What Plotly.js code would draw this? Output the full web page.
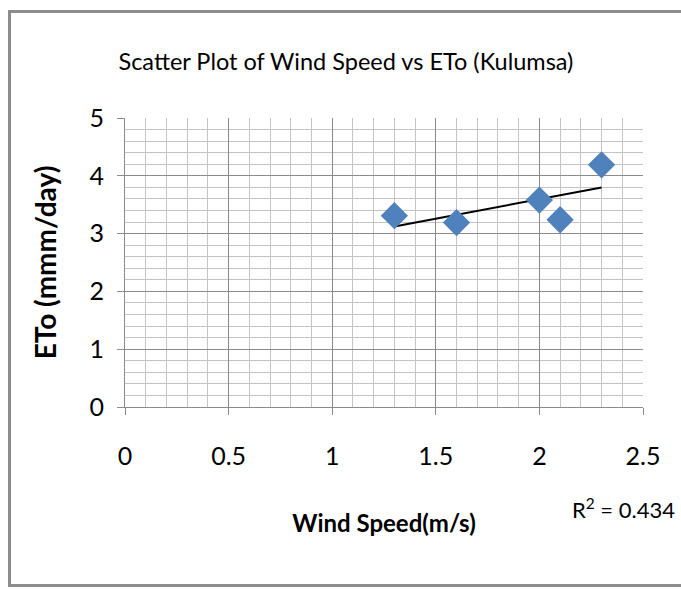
<!DOCTYPE html>
<html>
<head>
<meta charset="utf-8">
<script src="https://cdn.plot.ly/plotly-3.0.1.min.js"></script>
<style>
  html, body { margin: 0; padding: 0; background: #fff; }
  #wrap { position: relative; width: 681px; height: 589px; overflow: hidden; }
  #chart { position: absolute; left: 0; top: 0; width: 681px; height: 589px; }
  #frame { position: absolute; left: 8px; top: 10px; width: 700px; height: 571px;
           border-left: 3px solid #8c8c8c; border-top: 3px solid #8c8c8c; border-bottom: 3px solid #8c8c8c;
           pointer-events: none; }
</style>
</head>
<body>
<div id="wrap">
  <div id="chart"></div>
  <div id="frame"></div>
</div>
<script>
// ---- data ----
const windSpeed = [1.3, 1.6, 2.0, 2.1, 2.3];
const eto = [3.31, 3.19, 3.58, 3.24, 4.19];
const xTickVals = [0, 0.5, 1, 1.5, 2, 2.5];
const yTickVals = [0, 1, 2, 3, 4, 5];
const chartTitle = "Scatter Plot of Wind Speed vs ETo (Kulumsa)";
const xTitle = "Wind Speed(m/s)";
const yTitle = "ETo (mmm/day)";
const r2Label = "R<sup>2</sup> = 0.434";

// ---- linear least-squares trendline from the data ----
const n = windSpeed.length;
const mx = windSpeed.reduce((a, b) => a + b, 0) / n;
const my = eto.reduce((a, b) => a + b, 0) / n;
let sxy = 0, sxx = 0;
for (let i = 0; i < n; i++) { sxy += (windSpeed[i] - mx) * (eto[i] - my); sxx += (windSpeed[i] - mx) ** 2; }
const slope = sxy / sxx, intercept = my - slope * mx;
const xMin = Math.min(...windSpeed), xMax = Math.max(...windSpeed);
const trendX = [xMin, xMax];
const trendY = trendX.map(x => intercept + slope * x);

const FONT = 'Lato, "Open Sans", sans-serif';

const data = [
  { x: trendX, y: trendY, type: 'scatter', mode: 'lines',
    line: { color: '#000000', width: 2 }, hoverinfo: 'skip', showlegend: false },
  { x: windSpeed, y: eto, type: 'scatter', mode: 'markers',
    marker: { symbol: 'diamond', size: 21, color: '#4F81BD' }, showlegend: false }
];

const layout = {
  width: 681, height: 589,
  margin: { l: 125, r: 38, t: 118, b: 182 },
  paper_bgcolor: '#ffffff', plot_bgcolor: '#ffffff',
  font: { family: FONT, color: '#000000', size: 24 },
  title: { text: chartTitle, x: 0.508, xanchor: 'center', y: 0.895, yanchor: 'middle',
           font: { family: FONT, size: 23.5, color: '#000' } },
  xaxis: {
    range: [0, 2.5], tickvals: xTickVals, ticktext: xTickVals.map(String),
    showgrid: true, gridcolor: '#8a8a8a', gridwidth: 1,
    minor: { dtick: 0.1, showgrid: true, gridcolor: '#c4c4c4', gridwidth: 1, ticks: '' },
    showline: true, linecolor: '#8a8a8a', linewidth: 1,
    ticks: 'outside', ticklen: 7, tickcolor: '#8a8a8a',
    ticklabelstandoff: 20,
    tickfont: { family: FONT, size: 25 },
    zeroline: false,
    title: { text: xTitle, standoff: 46, font: { family: FONT, size: 24, weight: 'bold' } }
  },
  yaxis: {
    range: [0, 5], tickvals: yTickVals, ticktext: yTickVals.map(String),
    showgrid: true, gridcolor: '#8a8a8a', gridwidth: 1,
    minor: { dtick: 0.2, showgrid: true, gridcolor: '#c4c4c4', gridwidth: 1, ticks: '' },
    showline: true, linecolor: '#8a8a8a', linewidth: 1,
    ticks: 'outside', ticklen: 7, tickcolor: '#8a8a8a',
    ticklabelstandoff: 8,
    tickfont: { family: FONT, size: 25 },
    zeroline: false,
    title: { text: yTitle, standoff: 24, font: { family: FONT, size: 28, weight: 'bold' } }
  },
  annotations: [
    { text: r2Label, xref: 'paper', yref: 'paper', x: 0.962, y: -0.352, xanchor: 'center', yanchor: 'middle',
      showarrow: false, font: { family: FONT, size: 22, color: '#000' } }
  ]
};

Plotly.newPlot('chart', data, layout, { displayModeBar: false, staticPlot: true });
</script>
</body>
</html>
